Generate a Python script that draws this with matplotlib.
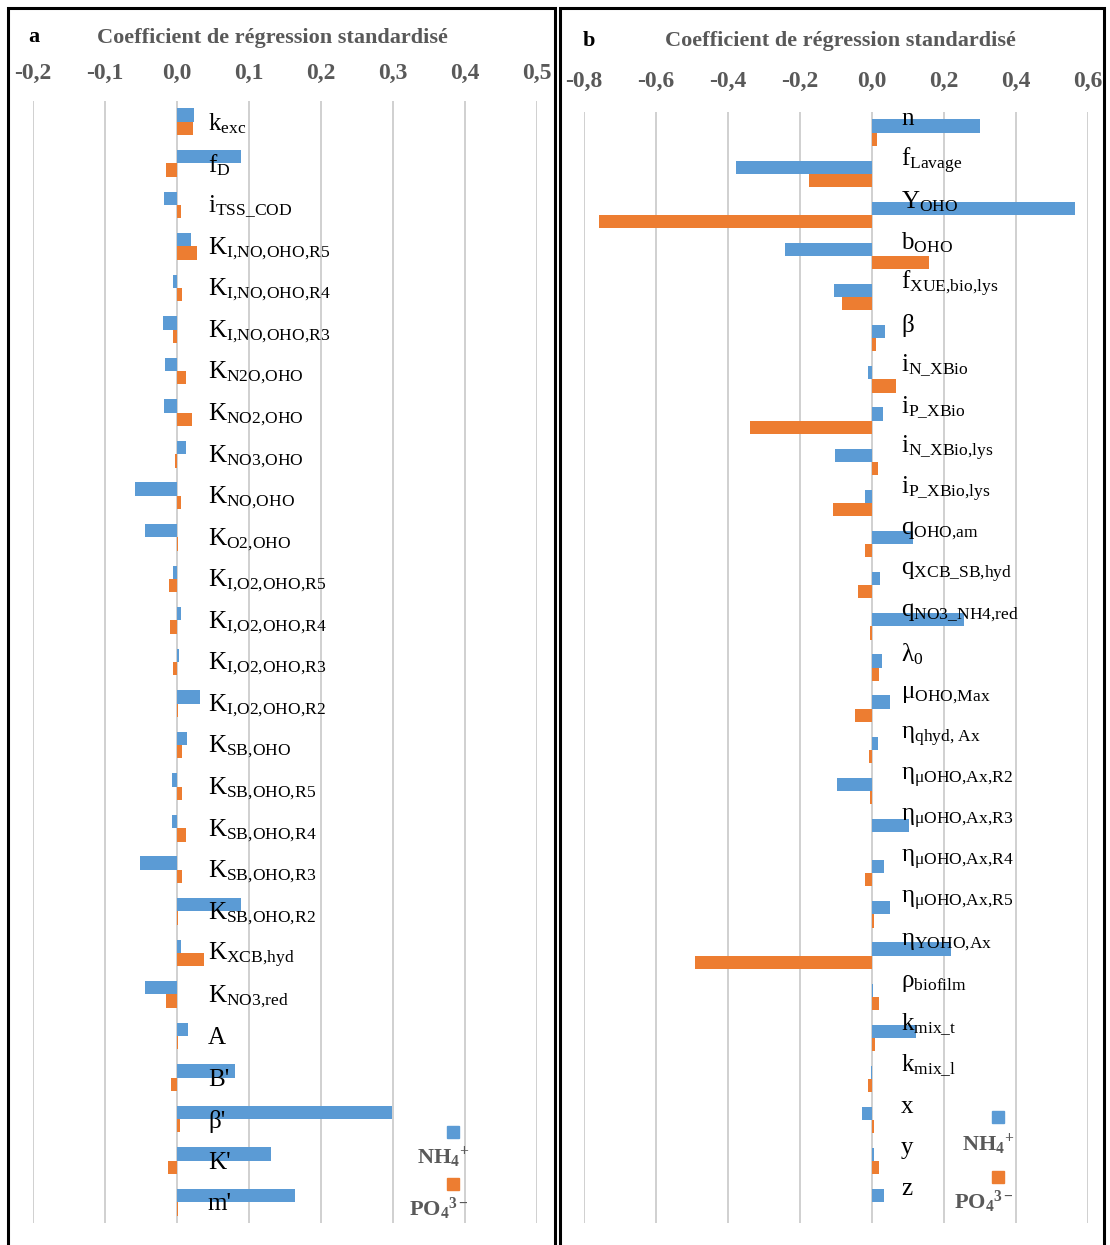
import numpy as np
import matplotlib
matplotlib.use("Agg")
import matplotlib.pyplot as plt
from matplotlib.patches import Rectangle

plt.rcParams['font.family'] = ['Liberation Serif', 'DejaVu Serif']
plt.rcParams['mathtext.fontset'] = 'custom'
plt.rcParams['mathtext.rm'] = 'Liberation Serif'
plt.rcParams['mathtext.it'] = 'Liberation Serif:italic'
plt.rcParams['mathtext.bf'] = 'Liberation Serif:bold'

# ---------------- data ----------------
# panel a
sym_a = ['k', 'f', 'i', 'K', 'K', 'K', 'K', 'K', 'K', 'K', 'K', 'K', 'K', 'K',
         'K', 'K', 'K', 'K', 'K', 'K', 'K', 'K', 'A', "B'", "β'", "K'", "m'"]
sub_a = ['exc', 'D', 'TSS_COD', 'I,NO,OHO,R5', 'I,NO,OHO,R4', 'I,NO,OHO,R3',
         'N2O,OHO', 'NO2,OHO', 'NO3,OHO', 'NO,OHO', 'O2,OHO', 'I,O2,OHO,R5',
         'I,O2,OHO,R4', 'I,O2,OHO,R3', 'I,O2,OHO,R2', 'SB,OHO', 'SB,OHO,R5',
         'SB,OHO,R4', 'SB,OHO,R3', 'SB,OHO,R2', 'XCB,hyd', 'NO3,red',
         '', '', '', '', '']
nh4_a = [0.024, 0.089, -0.018, 0.019, -0.005, -0.019, -0.016, -0.018, 0.013,
         -0.058, -0.044, -0.006, 0.006, 0.003, 0.032, 0.014, -0.007, -0.007,
         -0.051, 0.089, 0.006, -0.045, 0.015, 0.080, 0.299, 0.130, 0.164]
po4_a = [0.023, -0.015, 0.006, 0.028, 0.007, -0.005, 0.0125, 0.021, -0.003,
         0.005, 0.001, -0.011, -0.010, -0.005, 0.001, 0.0065, 0.0065, 0.012,
         0.0065, 0.001, 0.038, -0.015, 0.002, -0.008, 0.004, -0.013, 0.001]
ticks_a = [-0.2, -0.1, 0.0, 0.1, 0.2, 0.3, 0.4, 0.5]

# panel b
sym_b = ['n', 'f', 'Y', 'b', 'f', 'β', 'i', 'i', 'i', 'i', 'q', 'q', 'q', 'λ',
         'μ', 'η', 'η', 'η', 'η', 'η', 'η', 'ρ', 'k', 'k', 'x', 'y', 'z']
sub_b = ['', 'Lavage', 'OHO', 'OHO', 'XUE,bio,lys', '', 'N_XBio', 'P_XBio',
         'N_XBio,lys', 'P_XBio,lys', 'OHO,am', 'XCB_SB,hyd', 'NO3_NH4,red',
         '0', 'OHO,Max', 'qhyd, Ax', 'μOHO,Ax,R2', 'μOHO,Ax,R3', 'μOHO,Ax,R4',
         'μOHO,Ax,R5', 'YOHO,Ax', 'biofilm', 'mix_t', 'mix_l', '', '', '']
nh4_b = [0.300, -0.377, 0.565, -0.240, -0.106, 0.037, -0.012, 0.030, -0.103,
         -0.0185, 0.115, 0.024, 0.255, 0.029, 0.050, 0.0185, -0.096, 0.104,
         0.035, 0.051, 0.219, 0.004, 0.124, -0.003, -0.027, 0.006, 0.033]
po4_b = [0.015, -0.175, -0.757, 0.160, -0.084, 0.012, 0.066, -0.340, 0.017,
         -0.107, -0.0185, -0.039, -0.004, 0.020, -0.046, -0.0074, -0.005, 0.001,
         -0.020, 0.005, -0.491, 0.020, 0.008, -0.012, 0.007, 0.020, 0.001]
ticks_b = [-0.8, -0.6, -0.4, -0.2, 0.0, 0.2, 0.4, 0.6]

BLUE = '#5B9BD5'
ORANGE = '#ED7D31'
GREY = '#595959'
GRID = '#D0D0D0'

W, H = 1110, 1245


def fx(x):
    return x / W


def fy(y):
    return 1 - y / H


def label(main, sub):
    if not sub:
        return main
    s = sub.replace('_', r'\_').replace(',', '{,}').replace(' ', r'\ ')
    return r'$\mathrm{' + main + r'}_{\mathrm{' + s + r'}}$'


def fmt(v):
    return f"{round(v, 1) + 0.0:.1f}".replace('.', ',')


def panel(ax, syms, subs, nh4, po4, ticks, pad, dx, dy):
    y = np.arange(len(syms))
    h = 0.32
    ax.barh(y - h / 2, nh4, height=h, color=BLUE, zorder=2)
    ax.barh(y + h / 2, po4, height=h, color=ORANGE, zorder=2)
    ax.set_xlim(ticks[0], ticks[-1])
    ax.set_ylim(len(syms) - 0.5, -0.5)
    ax.set_yticks([])
    ax.set_xticks(ticks)
    ax.set_xticklabels([fmt(t) for t in ticks], fontweight='bold',
                       fontsize=17, color=GREY)
    ax.xaxis.tick_top()
    ax.tick_params(axis='x', length=0, pad=pad)
    ax.grid(axis='x', color=GRID, lw=1.4, zorder=0)
    ax.set_axisbelow(True)
    for s in ax.spines.values():
        s.set_visible(False)
    for i in range(len(syms)):
        ax.annotate(label(syms[i], subs[i]), xy=(0, i), xytext=(dx, dy),
                    textcoords='offset points', ha='left', va='center',
                    fontsize=18, color='black', zorder=5)


fig = plt.figure(figsize=(W / 100, H / 100), dpi=100)

ax_a = fig.add_axes([fx(32.9), fy(1223), (537 - 32.9) / W, (1223 - 101) / H])
panel(ax_a, sym_a, sub_a, nh4_a, po4_a, ticks_a, 12, 22.3, -1.5)

ax_b = fig.add_axes([fx(584), fy(1223), (1087.7 - 584) / W, (1223 - 112) / H])
panel(ax_b, sym_b, sub_b, nh4_b, po4_b, ticks_b, 14.5, 21, 9.5)

# titles and panel letters
fig.text(fx(34), fy(37), 'a', fontsize=16, fontweight='bold', ha='center', va='center')
fig.text(fx(272), fy(38), 'Coefficient de régression standardisé', fontsize=16,
         fontweight='bold', color=GREY, ha='center', va='center')
fig.text(fx(589), fy(41), 'b', fontsize=16, fontweight='bold', ha='center', va='center')
fig.text(fx(840), fy(41), 'Coefficient de régression standardisé', fontsize=16,
         fontweight='bold', color=GREY, ha='center', va='center')

# legends
for (sx, sy1, sy2, tx, ty1, ty2) in [(453, 1132, 1184, 469, 1157, 1209),
                                     (998, 1117, 1177, 1014, 1144, 1202)]:
    fig.add_artist(Rectangle((fx(sx - 6), fy(sy1 + 6)), 12 / W, 12 / H,
                             transform=fig.transFigure, color=BLUE))
    fig.add_artist(Rectangle((fx(sx - 6), fy(sy2 + 6)), 12 / W, 12 / H,
                             transform=fig.transFigure, color=ORANGE))
    fig.text(fx(tx), fy(ty1), r'$\mathbf{NH}_{\mathbf{4}}{}^{\mathbf{+}}$',
             fontsize=16, color=GREY, ha='right', va='center')
    fig.text(fx(tx), fy(ty2), r'$\mathbf{PO}_{\mathbf{4}}{}^{\mathbf{3-}}$',
             fontsize=16, color=GREY, ha='right', va='center')

# panel frames
fig.add_artist(Rectangle((fx(8), fy(1270)), (555 - 8) / W, (1270 - 8) / H,
                         transform=fig.transFigure, fill=False, lw=2.2, ec='black'))
fig.add_artist(Rectangle((fx(560), fy(1270)), (1104 - 560) / W, (1270 - 8) / H,
                         transform=fig.transFigure, fill=False, lw=2.2, ec='black'))

fig.savefig('out.png', dpi=100)
